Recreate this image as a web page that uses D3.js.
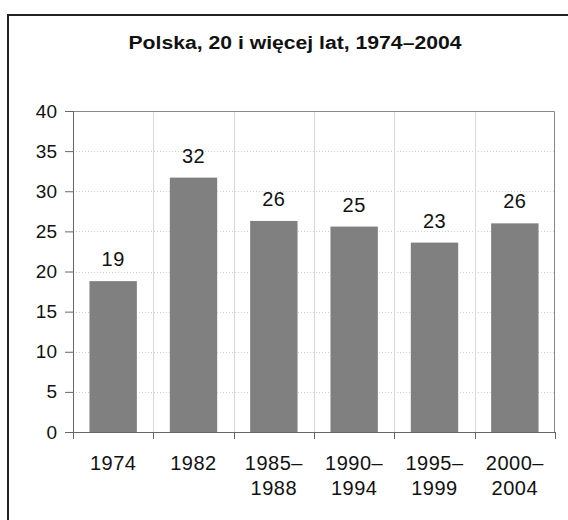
<!DOCTYPE html>
<html>
<head>
<meta charset="utf-8">
<script src="https://cdn.jsdelivr.net/npm/d3@7"></script>
<style>
    body { margin: 0; background: #fff; overflow: hidden; }
    svg { display: block; font-family: "Liberation Sans", Arial, sans-serif; }
</style>
</head>
<body>
<div id="chart"></div>
<script>
// data
const categories = [['1974'], ['1982'], ['1985–', '1988'], ['1990–', '1994'], ['1995–', '1999'], ['2000–', '2004']];
const values = [18.8, 31.7, 26.3, 25.6, 23.6, 26.0];
const labels = ['19', '32', '26', '25', '23', '26'];
const yTicks = [0, 5, 10, 15, 20, 25, 30, 35, 40];
const title = 'Polska, 20 i więcej lat, 1974–2004';

const width = 568, height = 520;
const margin = { top: 111, right: 13, bottom: 88, left: 73 };
const innerW = width - margin.left - margin.right;
const innerH = height - margin.top - margin.bottom;

const svg = d3.select('#chart')
    .append('svg')
    .attr('width', width)
    .attr('height', height);

// outer frame: only left and top edges are in view
svg.append('path')
    .attr('d', `M8,${height + 5}V15H${width + 5}`)
    .attr('fill', 'none')
    .attr('stroke', '#222')
    .attr('stroke-width', 2);

svg.append('text')
    .attr('x', 295)
    .attr('y', 49)
    .attr('text-anchor', 'middle')
    .attr('font-size', 18)
    .attr('font-weight', 'bold')
    .attr('fill', '#111')
    .attr('textLength', 333)
    .attr('lengthAdjust', 'spacingAndGlyphs')
    .text(title);

const g = svg.append('g')
    .attr('transform', `translate(${margin.left},${margin.top})`);

const keys = categories.map(c => c.join(''));

const x = d3.scaleBand()
    .domain(keys)
    .range([0, innerW])
    .paddingInner(0.41)
    .paddingOuter(0.205);

const y = d3.scaleLinear()
    .domain([0, 40])
    .range([innerH, 0]);

const sep = i => Math.round(i * innerW / keys.length) + 0.5;

// horizontal dotted gridlines
g.append('g')
    .selectAll('line')
    .data(yTicks.filter(d => d > 0 && d < 40))
    .join('line')
    .attr('x1', 0)
    .attr('x2', innerW)
    .attr('y1', d => Math.round(y(d)) + 0.5)
    .attr('y2', d => Math.round(y(d)) + 0.5)
    .attr('stroke', '#d0d0d0')
    .attr('stroke-dasharray', '1,2');

// vertical band separators
g.append('g')
    .selectAll('line')
    .data(d3.range(1, keys.length))
    .join('line')
    .attr('x1', sep)
    .attr('x2', sep)
    .attr('y1', 0)
    .attr('y2', innerH)
    .attr('stroke', '#d8d8d8');

// plot border top and right
g.append('path')
    .attr('d', `M0,0.5H${innerW - 0.5}V${innerH}`)
    .attr('fill', 'none')
    .attr('stroke', '#888');

// bars
g.selectAll('.bar')
    .data(values)
    .join('rect')
    .attr('class', 'bar')
    .attr('x', (d, i) => x(keys[i]))
    .attr('width', x.bandwidth())
    .attr('y', d => y(d))
    .attr('height', d => innerH - y(d))
    .attr('fill', '#808080');

// value labels
g.selectAll('.lbl')
    .data(values)
    .join('text')
    .attr('class', 'lbl')
    .attr('x', (d, i) => x(keys[i]) + x.bandwidth() / 2)
    .attr('y', d => y(d) - 15)
    .attr('text-anchor', 'middle')
    .attr('font-size', 20)
    .attr('letter-spacing', 0.5)
    .attr('fill', '#111')
    .text((d, i) => labels[i]);

// y axis
const yAxis = g.append('g')
    .call(d3.axisLeft(y).tickValues(yTicks).tickSize(8).tickPadding(8));
yAxis.select('.domain').attr('stroke', '#666');
yAxis.selectAll('.tick line').attr('stroke', '#666');
yAxis.selectAll('text')
    .attr('font-size', 19)
    .attr('fill', '#111')
    .attr('font-family', 'Liberation Sans, Arial, sans-serif');

// x axis line with ticks at band boundaries
const xa = g.append('g').attr('transform', `translate(0,${innerH})`);
xa.append('line')
    .attr('x1', 0).attr('x2', innerW)
    .attr('y1', 0.5).attr('y2', 0.5)
    .attr('stroke', '#666');
xa.selectAll('.xt')
    .data(d3.range(0, keys.length + 1))
    .join('line')
    .attr('class', 'xt')
    .attr('x1', sep)
    .attr('x2', sep)
    .attr('y1', 0)
    .attr('y2', 7)
    .attr('stroke', '#666');

xa.selectAll('.xl')
    .data(categories)
    .join('text')
    .attr('class', 'xl')
    .attr('x', (d, i) => x(keys[i]) + x.bandwidth() / 2)
    .attr('y', 38)
    .attr('text-anchor', 'middle')
    .attr('font-size', 20)
    .attr('letter-spacing', 0.5)
    .attr('fill', '#111')
    .selectAll('tspan')
    .data(d => d)
    .join('tspan')
    .attr('x', function() { return d3.select(this.parentNode).attr('x'); })
    .attr('dy', (d, i) => i === 0 ? 0 : 25)
    .text(d => d);
</script>
</body>
</html>
